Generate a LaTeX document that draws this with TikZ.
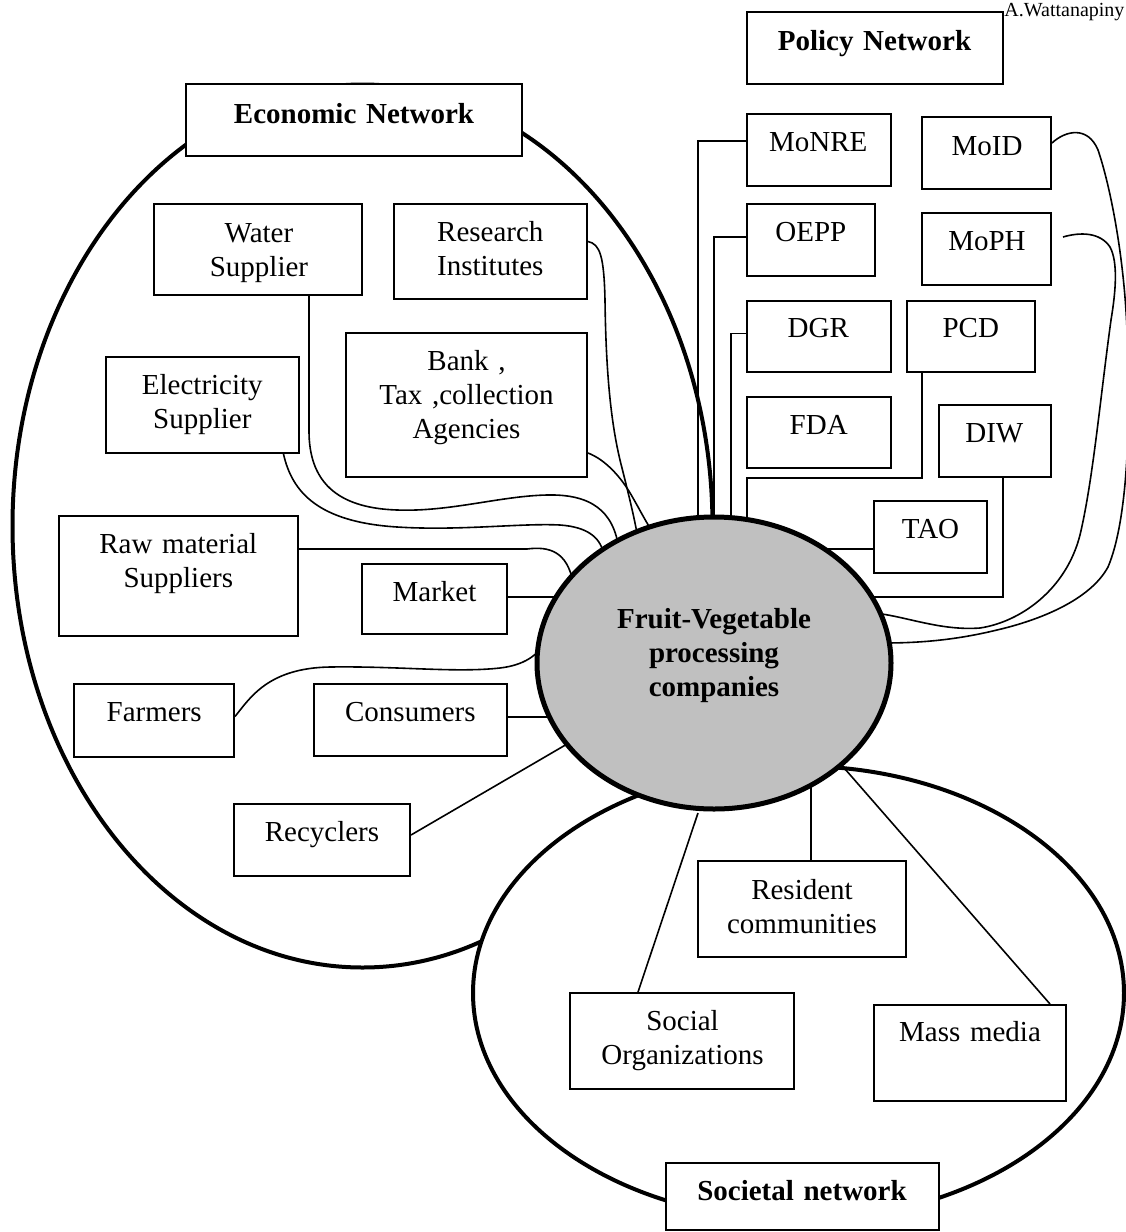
\documentclass[tikz,border=0pt]{standalone}
\usepackage{fontspec}
\setmainfont{Liberation Serif}
\usetikzlibrary{fit,calc,shapes.geometric}
\pgfdeclarelayer{back}
\pgfsetlayers{back,main}
\definecolor{hubgray}{HTML}{C0C0C0}
\begin{document}
\begin{tikzpicture}[x=0.5pt,y=-0.5pt,
  box/.style={draw, line width=1pt, fill=white, inner sep=0pt, fit={#1}},
  lbl/.style={inner sep=0pt, text width=150pt, align=center, anchor=base,
              font=\fontsize{14.5}{17}\selectfont},
  ttl/.style={lbl, font=\fontsize{14.5}{17}\selectfont\bfseries},
  link/.style={line width=0.8pt},
  ring/.style={line width=2pt},
]
\useasboundingbox (0,0) rectangle (1125,1232);

% ---------- policy network ----------
\node[box={(747,12)(1003,84)}] (pnet) {};
\node[ttl] (pnet-t) at (874.5,50.5) {Policy Network};
\node[box={(747,114)(891,186)}] (monre) {};
\node[lbl] (monre-t) at (818.3,151.7) {MoNRE};
\node[box={(922,117)(1051,189)}] (moid) {};
\node[lbl] (moid-t) at (987,155) {MoID};
\node[box={(747,204)(875,276)}] (oepp) {};
\node[lbl] (oepp-t) at (810.8,241.7) {OEPP};
\node[box={(922,213)(1051,285)}] (moph) {};
\node[lbl] (moph-t) at (987,250.7) {MoPH};
\node[box={(747,301)(891,372)}] (dgr) {};
\node[lbl] (dgr-t) at (818.3,337.7) {DGR};
\node[box={(907,301)(1035,372)}] (pcd) {};
\node[lbl] (pcd-t) at (970.8,337.7) {PCD};
\node[box={(747,397)(891,468)}] (fda) {};
\node[lbl] (fda-t) at (818.7,434) {FDA};
\node[box={(939,405)(1051,477)}] (diw) {};
\node[lbl] (diw-t) at (994.3,442.7) {DIW};
\node[box={(874,501)(987,573)}] (tao) {};
\node[lbl] (tao-t) at (930.5,538.3) {TAO};

% ---------- economic network ----------
\node[box={(186,84)(522,156)}] (enet) {};
\node[ttl] (enet-t) at (354,123.3) {Economic Network};
\node[box={(154,204)(362,295)}] (water) {};
\node[lbl] (water-t) at (259,242) {Water\\Supplier};
\node[box={(394,204)(587,299)}] (research) {};
\node[lbl] (research-t) at (490.3,241.7) {Research\\Institutes};
\node[box={(106,357)(299,453)}] (elec) {};
\node[lbl] (elec-t) at (202.3,394) {Electricity\\Supplier};
\node[box={(346,333)(587,477)}] (bank) {};
\node[lbl] (bank-t) at (466.5,370) {Bank ,\\Tax ,collection\\Agencies};
\node[box={(59,516)(298,636)}] (raw) {};
\node[lbl] (raw-t) at (178.3,553) {Raw material\\Suppliers};
\node[box={(362,564)(507,634)}] (market) {};
\node[lbl] (market-t) at (434.5,601.7) {Market};
\node[box={(74,684)(234,757)}] (farmers) {};
\node[lbl] (farmers-t) at (154.2,721.7) {Farmers};
\node[box={(314,684)(507,756)}] (consumers) {};
\node[lbl] (consumers-t) at (410.4,721.7) {Consumers};
\node[box={(234,804)(410,876)}] (recyclers) {};
\node[lbl] (recyclers-t) at (322,841.7) {Recyclers};

% ---------- societal network ----------
\node[box={(698,861)(906,957)}] (resident) {};
\node[lbl] (resident-t) at (802,899.3) {Resident\\communities};
\node[box={(570,993)(794,1089)}] (socorg) {};
\node[lbl] (socorg-t) at (682.5,1030) {Social\\Organizations};
\node[box={(874,1005)(1066,1101)}] (massmedia) {};
\node[lbl] (massmedia-t) at (970,1041.7) {Mass media};
\node[box={(666,1163)(939,1230)}] (snet) {};
\node[ttl] (snet-t) at (802,1200) {Societal network};

% ---------- hub ----------
\node[ellipse, draw, line width=2.5pt, fill=hubgray, inner sep=0pt,
      minimum width=177pt, minimum height=146pt] (fv) at (714,663) {};
\node[ttl] (fv-t) at (714,628) {Fruit-Vegetable\\processing\\companies};

\node[anchor=base west, inner sep=0pt, font=\fontsize{10}{12}\selectfont]
  (author) at (1004,16.7) {A.Wattanapiny};

\begin{pgfonlayer}{back}
% network boundaries
\draw[ring] (362.5,526) ellipse [x radius=350, y radius=441.5];
\draw[ring, fill=white] (798.5,993) ellipse [x radius=325.5, y radius=227];

% policy links
\draw[link] ($(monre.west)+(0,-9)$) -| ($(fv.center)+(-16,0)$);
\draw[link] ($(oepp.west)+(0,-3)$) -| (fv.center);
\draw[link] ($(dgr.west)+(0,-3)$) -| ($(fv.center)+(17,0)$);
\draw[link] ($(pcd.south)+(-49,0)$) -- ++(0,105) -| ($(fv.center)+(33,0)$);
\draw[link] ($(diw.south)+(8,0)$) |- ($(fv.center)+(0,-66)$);
\draw[link] ($(tao.west)+(0,12)$) -- ($(fv.center)+(0,-114)$);
\draw[link] ($(moid.east)+(0,-10)$) .. controls (1066,130) and (1088,126) .. (1098,150)
  .. controls (1110,185) and (1124,255) .. (1127,330)
  .. controls (1131,420) and (1128,520) .. (1108,567)
  .. controls (1090,600) and (1040,620) .. (997,630)
  .. controls (960,639) and (925,643) .. ($(fv.center)+(170,-20)$);
\draw[link] ($(moph.east)+(11,-12)$) .. controls (1080,232) and (1100,232) .. (1110,247)
  .. controls (1118,262) and (1116,290) .. (1111,320)
  .. controls (1100,400) and (1093,480) .. (1080,535)
  .. controls (1066,590) and (1020,622) .. (980,628)
  .. controls (940,631) and (905,616) .. ($(fv.center)+(160,-50)$);

% economic links
\draw[link] ($(research.east)+(0,-10)$) .. controls (600,244) and (604,256) .. (605,300)
  .. controls (606,380) and (612,430) .. (622,468)
  .. controls (628,492) and (633,512) .. ($(fv.center)+(-77,-130)$);
\draw[link] ($(bank.east)+(0,48)$) .. controls (606,460) and (622,478) .. (633,498)
  .. controls (641,512) and (646,522) .. ($(fv.center)+(-62,-132)$);
\draw[link] ($(water.south)+(51,0)$) -- ++(0,135)
  .. controls (309,480) and (335,508) .. (397,510)
  .. controls (450,512) and (500,496) .. (547,495)
  .. controls (590,494) and (614,510) .. ($(fv.center)+(-95,-113)$);
\draw[link] ($(elec.south)+(81,0)$) .. controls (292,492) and (318,522) .. (397,527)
  .. controls (460,531) and (520,523) .. (560,525)
  .. controls (588,527) and (602,538) .. ($(fv.center)+(-110,-106)$);
\draw[link] ($(raw.east)+(0,-27)$) -- (527,549)
  .. controls (550,546) and (567,552) .. ($(fv.center)+(-141,-81)$);
\draw[link] ($(market.east)+(0,-2)$) -- ($(fv.center)+(0,-66)$);
\draw[link] ($(farmers.east)+(0,-4)$) .. controls (250,698) and (268,668) .. (330,667)
  .. controls (400,666) and (455,673) .. (500,668)
  .. controls (525,665) and (537,655) .. ($(fv.center)+(-169,-20)$);
\draw[link] ($(consumers.east)+(0,-3)$) -- ($(fv.center)+(0,54)$);
\draw[link] ($(recyclers.east)+(0,-5)$) -- ($(fv.center)+(-140,77)$);

% societal links
\draw[link] ($(socorg.north)+(-44,0)$) -- ($(fv.center)+(-16,150)$);
\draw[link] ($(resident.north)+(9,0)$) -- ($(fv.center)+(97,0)$);
\draw[link] ($(massmedia.north)+(80,0)$) -- ($(fv.center)+(131,106)$);
\end{pgfonlayer}
\end{tikzpicture}
\end{document}
